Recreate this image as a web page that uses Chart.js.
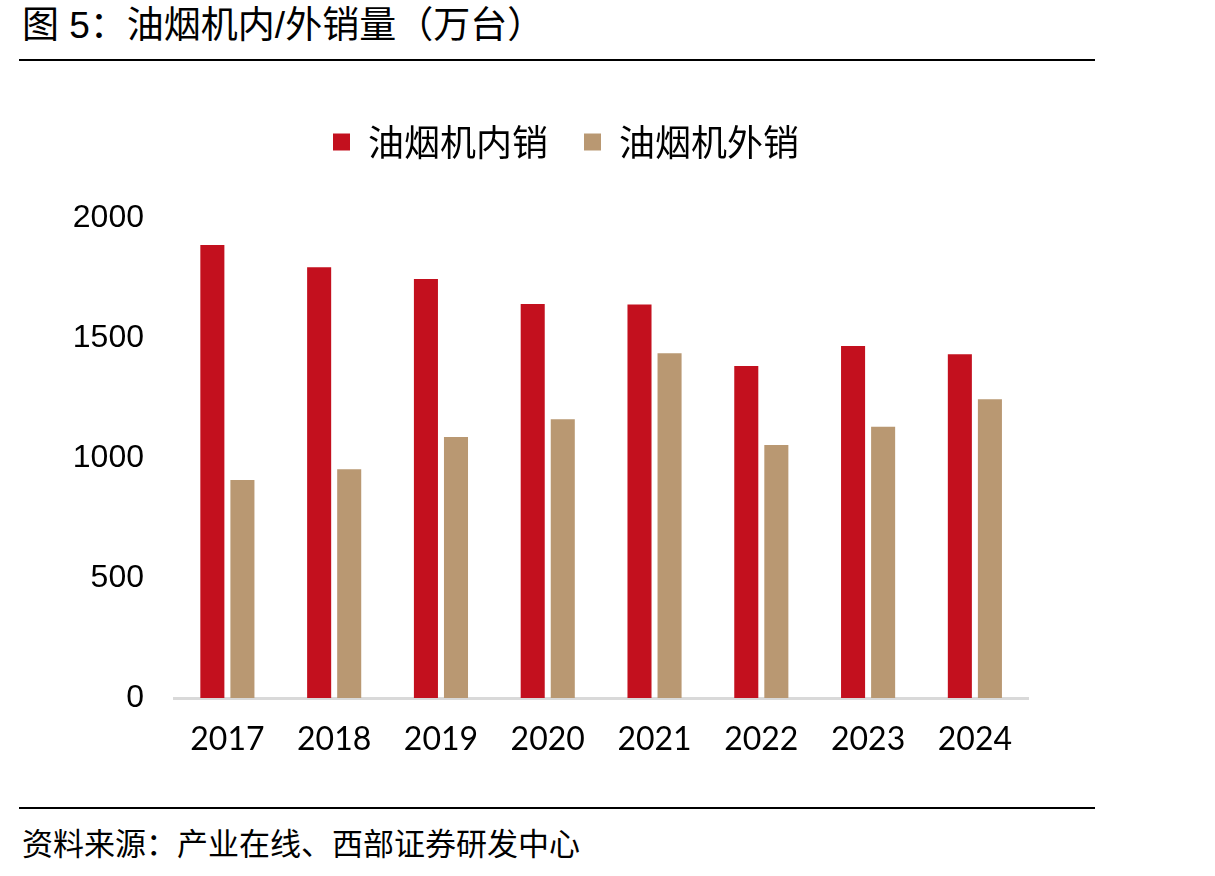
<!DOCTYPE html>
<html lang="zh">
<head>
<meta charset="UTF-8">
<title>油烟机内/外销量（万台）</title>
<script src="https://cdn.jsdelivr.net/npm/chart.js@4.4.1/dist/chart.umd.min.js"></script>
<style>
  body { margin: 0; background: #fff; width: 1215px; height: 876px; position: relative; overflow: hidden; }
  .title { position: absolute; left: 22px; top: -5px; font: 37px "Liberation Sans", "Noto Sans CJK SC", sans-serif; color: #000; white-space: nowrap; }
  .rule { position: absolute; left: 19px; width: 1076px; height: 2px; background: #000; }
  .source { position: absolute; left: 22px; top: 819px; font: 31px "Noto Sans CJK SC", sans-serif; color: #000; white-space: nowrap; }
  .wrap { position: absolute; left: 0; top: 72px; width: 1034px; height: 706px; }
</style>
</head>
<body>
<div class="title">图 5：油烟机内/外销量（万台）</div>
<div class="rule" style="top:59px"></div>
<div class="wrap"><canvas id="chart"></canvas></div>
<div class="rule" style="top:807px"></div>
<div class="source">资料来源：产业在线、西部证券研发中心</div>

<script>
// values (万台)
const years = ['2017', '2018', '2019', '2020', '2021', '2022', '2023', '2024'];
const domesticSales = [1888, 1795, 1746, 1642, 1640, 1383, 1467, 1432];
const exportSales = [908, 953, 1087, 1161, 1436, 1054, 1130, 1245];
const yTicks = [0, 500, 1000, 1500, 2000];

// extra room under the legend, and nudge the legend right like the original
const legendTweak = {
  id: 'legendTweak',
  beforeInit(chart) {
    const fit = chart.legend.fit;
    chart.legend.fit = function () {
      fit.bind(chart.legend)();
      this.height += 48;
    };
  },
  afterLayout(chart) {
    chart.legend.left += 49;
    chart.legend.right += 49;
  }
};

new Chart(document.getElementById('chart'), {
  type: 'bar',
  data: {
    labels: years,
    datasets: [
      { label: '油烟机内销', data: domesticSales, backgroundColor: '#c3101e', barPercentage: 0.8, categoryPercentage: 0.563 },
      { label: '油烟机外销', data: exportSales, backgroundColor: '#b99872', barPercentage: 0.8, categoryPercentage: 0.563 }
    ]
  },
  options: {
    responsive: true,
    maintainAspectRatio: false,
    animation: false,
    layout: { padding: { left: 0, right: 0, top: 16, bottom: 0 } },
    plugins: {
      legend: {
        position: 'top',
        labels: {
          boxWidth: 17,
          boxHeight: 17,
          padding: 36,
          color: '#000',
          font: { family: '"Noto Sans CJK SC", sans-serif', size: 36 }
        }
      },
      tooltip: { enabled: false }
    },
    scales: {
      x: {
        grid: { display: false, drawTicks: false },
        border: { display: true, color: '#d9d9d9', width: 3 },
        ticks: { color: '#000', padding: 22, font: { family: 'Lato, sans-serif', size: 32 } },
        afterFit(scale) { scale.height = 80; }
      },
      y: {
        min: 0,
        max: 2000,
        grid: { display: false, drawTicks: false },
        border: { display: false },
        afterBuildTicks(scale) { scale.ticks = yTicks.map(v => ({ value: v })); },
        ticks: {
          color: '#000',
          padding: 30,
          font: { family: '"Liberation Sans", Arial, sans-serif', size: 32 },
          callback: v => String(v)
        },
        afterFit(scale) { scale.width = 174; }
      }
    }
  },
  plugins: [legendTweak]
});
</script>
</body>
</html>
